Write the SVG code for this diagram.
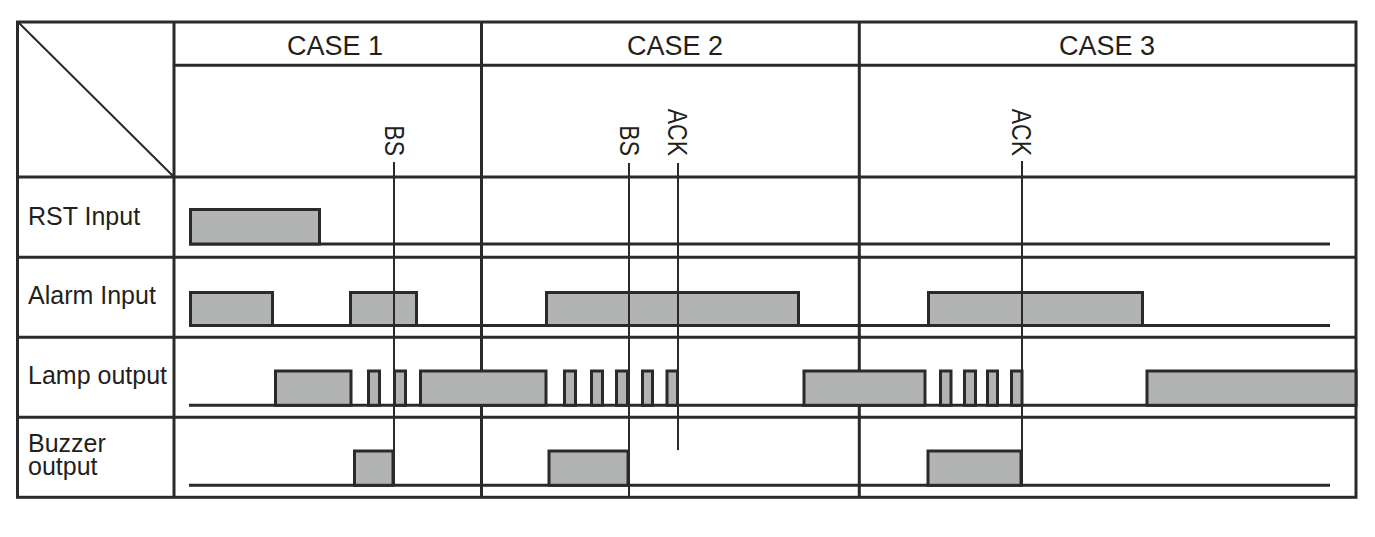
<svg xmlns="http://www.w3.org/2000/svg" width="1375" height="537" viewBox="0 0 1375 537">
<style>
.g{stroke:#2b2a29;stroke-width:3;fill:none}
.d{stroke:#2b2a29;stroke-width:2;fill:none}
.b{stroke:#2b2a29;stroke-width:3;fill:none}
.p{stroke:#2b2a29;stroke-width:3;fill:#b2b4b3}
.m{stroke:#2b2a29;stroke-width:2;fill:none}
.t{font-family:"Liberation Sans",Arial,sans-serif;font-size:25px;fill:#231f20}
.h{font-family:"Liberation Sans",Arial,sans-serif;font-size:27px;fill:#231f20;text-anchor:middle}
.r{font-family:"Liberation Sans",Arial,sans-serif;font-size:23px;fill:#231f20;text-anchor:end}
</style>
<rect width="1375" height="537" fill="#ffffff"/>
<g id="grid">
<rect class="g" x="17.5" y="22" width="1338.5" height="475.3"/>
<line class="g" x1="174" y1="22" x2="174" y2="497.3"/>
<line class="g" x1="481.5" y1="22" x2="481.5" y2="497.3"/>
<line class="g" x1="859.3" y1="22" x2="859.3" y2="497.3"/>
<line class="g" x1="174" y1="65.3" x2="1356" y2="65.3"/>
<line class="g" x1="17.5" y1="177" x2="1356" y2="177"/>
<line class="g" x1="17.5" y1="257.3" x2="1356" y2="257.3"/>
<line class="g" x1="17.5" y1="337.3" x2="1356" y2="337.3"/>
<line class="g" x1="17.5" y1="417.3" x2="1356" y2="417.3"/>
<line class="d" x1="18" y1="22" x2="174" y2="177"/>
</g>
<g id="headers">
<text class="h" x="335" y="55">CASE 1</text>
<text class="h" x="675" y="55">CASE 2</text>
<text class="h" x="1107" y="55">CASE 3</text>
</g>
<g id="labels">
<text class="t" x="28" y="225">RST Input</text>
<text class="t" x="28" y="304">Alarm Input</text>
<text class="t" x="28" y="384">Lamp output</text>
<text class="t" x="28" y="452">Buzzer<tspan x="28" y="475">output</tspan></text>
</g>
<g id="rst">
<line class="b" x1="189" y1="244" x2="1330" y2="244"/>
<rect class="p" x="190.5" y="209.5" width="129" height="34.5"/>
</g>
<g id="alarm">
<line class="b" x1="189" y1="325.5" x2="1330" y2="325.5"/>
<rect class="p" x="190.5" y="292.5" width="82" height="33"/>
<rect class="p" x="350.5" y="292.5" width="66" height="33"/>
<rect class="p" x="546.5" y="292.5" width="252" height="33"/>
<rect class="p" x="928.5" y="292.5" width="214" height="33"/>
</g>
<g id="lamp">
<line class="b" x1="189" y1="405.3" x2="1356" y2="405.3"/>
<rect class="p" x="275.5" y="371" width="75.5" height="34.3"/>
<rect class="p" x="368.5" y="371" width="11" height="34.3"/>
<rect class="p" x="394.5" y="371" width="11" height="34.3"/>
<rect class="p" x="420.5" y="371" width="125.5" height="34.3"/>
<rect class="p" x="564.5" y="371" width="11" height="34.3"/>
<rect class="p" x="591.5" y="371" width="11" height="34.3"/>
<rect class="p" x="616.5" y="371" width="11" height="34.3"/>
<rect class="p" x="642.5" y="371" width="10" height="34.3"/>
<rect class="p" x="667" y="371" width="10.5" height="34.3"/>
<rect class="p" x="804" y="371" width="121" height="34.3"/>
<rect class="p" x="940.5" y="371" width="10.5" height="34.3"/>
<rect class="p" x="964.5" y="371" width="11" height="34.3"/>
<rect class="p" x="987.5" y="371" width="10" height="34.3"/>
<rect class="p" x="1011.5" y="371" width="10.5" height="34.3"/>
<rect class="p" x="1147" y="371" width="209" height="34.3"/>
</g>
<g id="buzzer">
<line class="b" x1="189" y1="485.3" x2="1330" y2="485.3"/>
<rect class="p" x="354.5" y="451" width="38.5" height="34.3"/>
<rect class="p" x="549" y="451" width="79" height="34.3"/>
<rect class="p" x="928" y="451" width="93" height="34.3"/>
</g>
<g id="connectors">
<line class="m" x1="394" y1="162" x2="394" y2="485"/>
<line class="m" x1="629" y1="163" x2="629" y2="497"/>
<line class="m" x1="678" y1="163" x2="678" y2="450"/>
<line class="m" x1="1022" y1="161" x2="1022" y2="485"/>
</g>
<g id="markers">
<text class="r" transform="translate(384.5,156) rotate(90) scale(1,1.18)">BS</text>
<text class="r" transform="translate(619.5,156) rotate(90) scale(1,1.18)">BS</text>
<text class="r" transform="translate(668,156) rotate(90) scale(1,1.18)">ACK</text>
<text class="r" transform="translate(1012,156) rotate(90) scale(1,1.18)">ACK</text>
</g>
</svg>
